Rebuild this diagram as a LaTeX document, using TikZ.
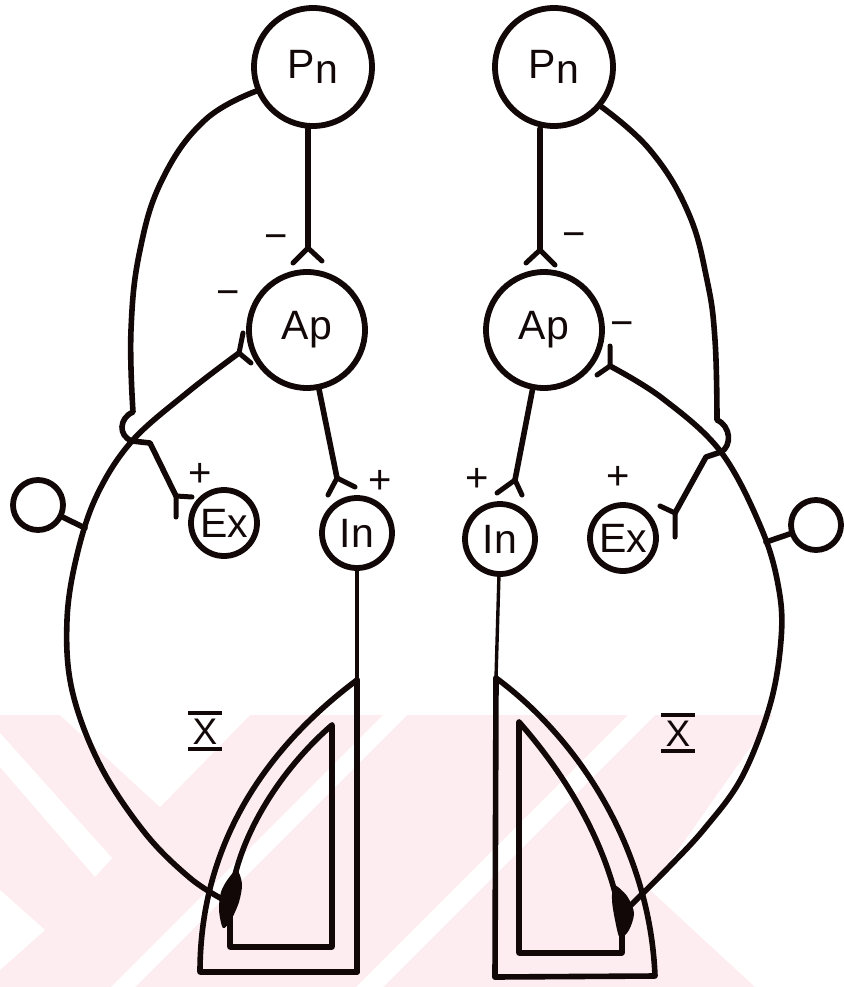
\documentclass[tikz,border=0pt]{standalone}
\usepackage{fontspec}
\setmainfont{Liberation Sans}
\usetikzlibrary{calc}
\definecolor{ink}{RGB}{18,8,8}
\definecolor{wmpink}{RGB}{253,237,241}
\tikzset{
  cell/.style={circle, draw=ink, line width=5.8pt, minimum size=#1, inner sep=0pt,
    text=ink, font=\fontsize{41}{44}\selectfont},
  fibre/.style={draw=ink, line width=5.6pt, line cap=round, line join=round},
  thinfibre/.style={draw=ink, line width=3.4pt, line cap=round},
  fork/.style={draw=ink, line width=5pt, line cap=round, line join=round},
  sign/.style={font=\fontsize{40}{40}\selectfont, text=ink, inner sep=0pt},
  xlabel/.style={font=\fontsize{37}{37}\selectfont, text=ink, inner xsep=4pt,
    inner ysep=5pt, text height=26pt, text depth=0pt},
  bar/.style={draw=ink, line width=3.6pt},
  spindle/.style={draw=ink, line width=5.6pt, line join=round, line cap=round},
}
\begin{document}
\begin{tikzpicture}[x=1pt,y=-1pt]
\useasboundingbox (0,0) rectangle (843,987);

% faint background band with chevrons
\begin{scope}
  \fill[wmpink] (0,715) -- (773,715) -- (650,890) -- (755,987) -- (0,987) -- cycle;
  \clip (0,715) -- (773,715) -- (650,890) -- (755,987) -- (0,987) -- cycle;
  \fill[white] (60,715) -- (250,715) -- (160,807) -- cycle;
  \fill[white] (0,733) -- (112,858) -- (95,877) -- (0,767) -- cycle;
  \fill[white] (0,890) -- (45,930) -- (0,970) -- cycle;
  \fill[white] (383,715) -- (407,715) -- (135,987) -- (111,987) -- cycle;
  \fill[white] (628,715) -- (655,715) -- (383,987) -- (356,987) -- cycle;
\end{scope}

% ---------------- left half ----------------
\node[cell=118pt] (pnL) at (313,67) {P\raisebox{-5pt}{n}};
\node[cell=116pt] (apL) at (307,330) {Ap};
\node[cell=66pt] (exL) at (224,523) {Ex};
\node[cell=70pt] (inL) at (357,533) {In};
\node[cell=50pt] (smL) at (38,505) {};

\coordinate (jPL) at (308,248);
\coordinate (jAL) at (239,353);
\coordinate (jIL) at (337,478);
\coordinate (jEL) at (176,496);
\coordinate (crossL) at (132,441);
\coordinate (kinkL) at (150,443);
\coordinate (tapL) at (85,528);
\coordinate (endL) at (224,900);
\coordinate (fanTopL) at (357,680);
\coordinate (fanFootL) at (357,972);

% Pn -> Ap
\draw[fibre] (pnL.south -| jPL) -- (jPL);
\draw[fork] ($(jPL)+(-15,15)$) -- (jPL) -- ($(jPL)+(14,13)$);
\node[sign] at (276,242) {−};

% Pn collateral ending on the afferent
\draw[fibre] plot[smooth, tension=0.7] coordinates
  {(pnL.203) (205,120) (163,178) (140,250) (131,330) (133,412)}
  .. controls (119,418) and (118,436) .. (crossL);

% afferent from the spindle to Ap
\draw[fibre] plot[smooth, tension=0.6] coordinates
  {(jAL) (188,392) (crossL) (97,495) (77,555) (67,620) (72,690) (100,765)
   (145,833) (190,878) (endL)};
\draw[fork] ($(jAL)+(4,-20)$) -- (jAL) -- ($(jAL)+(12,10)$);
\node[sign] at (228,298) {−};

% branch to Ex
\draw[fibre] (crossL) -- (kinkL) -- (jEL);
\draw[fork] ($(jEL)+(0,21)$) -- (jEL) -- ($(jEL)+(16,1)$);
\node[sign] at (200,475) {+};

% side cell
\draw[fibre] (smL) -- (tapL);

% Ap -> In
\draw[fibre] (apL) -- (jIL);
\draw[fork] ($(jIL)+(-9,17)$) -- (jIL) -- ($(jIL)+(18,9)$);
\node[sign] at (380,482) {+};

% In efferent and spindle
\draw[thinfibre] (inL) -- (fanTopL);
\draw[spindle] (fanTopL) -- (fanFootL);
\draw[spindle] (fanTopL) .. controls (270,745) and (200,840) .. (200,972) -- (fanFootL);
\draw[spindle] (332,725) -- (332,947) -- (230,947) -- (230,905)
  .. controls (235,840) and (280,770) .. (332,725);
\fill[ink] plot[smooth cycle] coordinates
  {(237,870) (242,884) (239,902) (231,920) (223,928) (219,910) (221,892) (228,879)};
\node[xlabel] (xbarL) at (205,731) {X};
\draw[bar] (xbarL.north west) -- (xbarL.north east);
\draw[bar] (xbarL.south west) -- (xbarL.south east);

% ---------------- right half ----------------
\node[cell=118pt] (pnR) at (554,67) {P\raisebox{-5pt}{n}};
\node[cell=116pt] (apR) at (544,330) {Ap};
\node[cell=66pt] (exR) at (623,538) {Ex};
\node[cell=70pt] (inR) at (500,539) {In};
\node[cell=50pt] (smR) at (816,525) {};

\coordinate (jPR) at (540,250);
\coordinate (jAR) at (610,366);
\coordinate (jIR) at (515,480);
\coordinate (jER) at (675,513);
\coordinate (crossR) at (721,452);
\coordinate (kinkR) at (706,457);
\coordinate (tapR) at (766,542);
\coordinate (endR) at (630,906);
\coordinate (fanTopR) at (496,678);
\coordinate (fanFootR) at (495,977);

% Pn -> Ap
\draw[fibre] (pnR.south -| jPR) -- (jPR);
\draw[fork] ($(jPR)+(-14,13)$) -- (jPR) -- ($(jPR)+(15,15)$);
\node[sign] at (574,240) {−};

% Pn collateral
\draw[fibre] plot[smooth, tension=0.7] coordinates
  {(pnR.-40) (650,150) (688,212) (707,280) (715,340) (717,420)}
  .. controls (731,426) and (732,446) .. (crossR);

% afferent
\draw[fibre] plot[smooth, tension=0.6] coordinates
  {(jAR) (662,398) (crossR) (762,530) (779,590) (781,640) (770,705) (742,777)
   (705,828) (668,868) (endR)};
\draw[fork] ($(jAR)+(0,-20)$) -- (jAR) -- ($(jAR)+(-13,9)$);
\node[sign] at (622,329) {−};

% branch to Ex
\draw[fibre] (crossR) -- (kinkR) -- (jER);
\draw[fork] ($(jER)+(-15,-7)$) -- (jER) -- ($(jER)+(0,24)$);
\node[sign] at (618,478) {+};

% side cell
\draw[fibre] (smR) -- (tapR);

% Ap -> In
\draw[fibre] (apR) -- (jIR);
\draw[fork] ($(jIR)+(-18,13)$) -- (jIR) -- ($(jIR)+(7,15)$);
\node[sign] at (477,480) {+};

% In efferent and spindle
\draw[thinfibre] (inR) -- (fanTopR);
\draw[spindle] (fanTopR) -- (fanFootR);
\draw[spindle] (fanTopR) .. controls (580,740) and (650,850) .. (655,976) -- (fanFootR);
\draw[spindle] (519,722) -- (519,953) -- (622,953) -- (622,925)
  .. controls (610,850) and (570,780) .. (519,722);
\fill[ink] plot[smooth cycle] coordinates
  {(614,885) (627,896) (634,913) (629,930) (620,938) (615,920) (612,900)};
\node[xlabel] (xbarR) at (678,733) {X};
\draw[bar] (xbarR.north west) -- (xbarR.north east);
\draw[bar] (xbarR.south west) -- (xbarR.south east);
\end{tikzpicture}
\end{document}
